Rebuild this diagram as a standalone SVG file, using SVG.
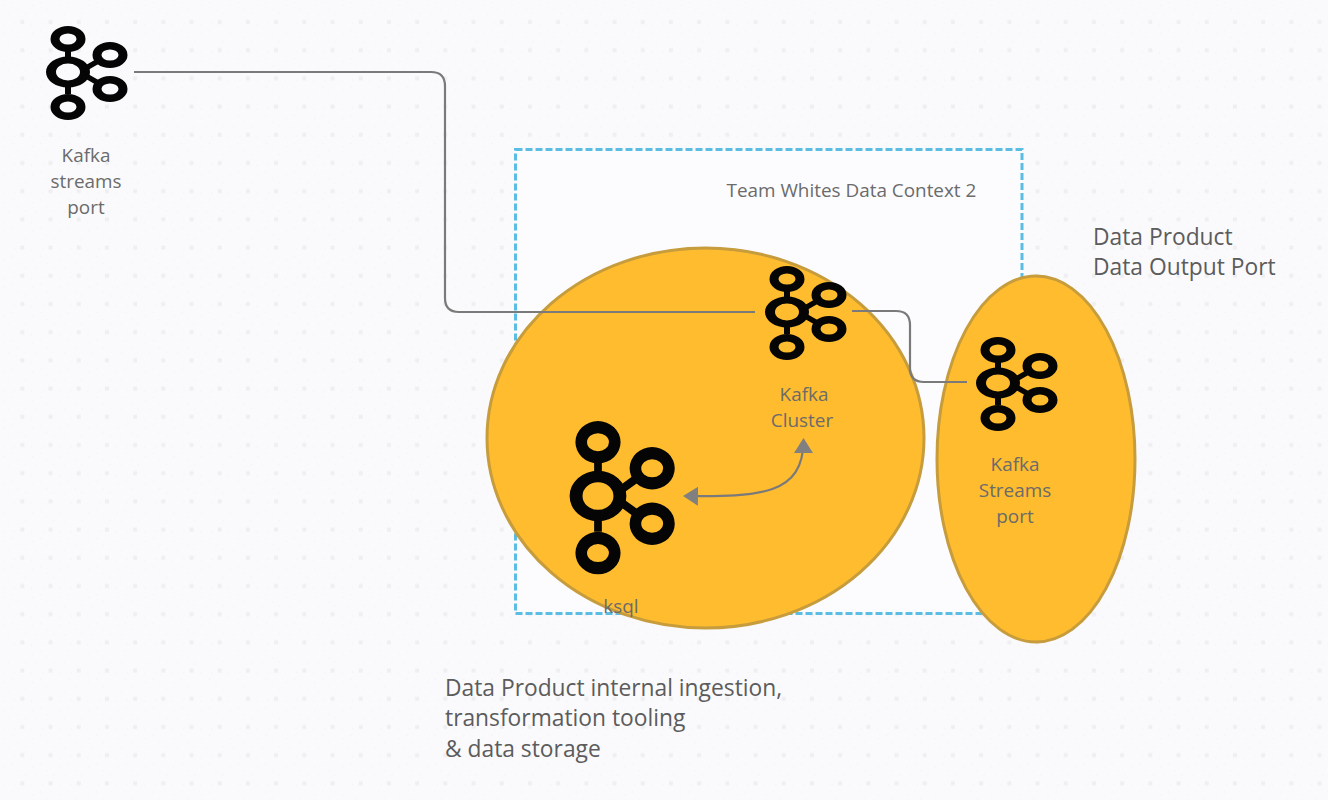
<svg xmlns="http://www.w3.org/2000/svg" width="1328" height="800" viewBox="0 0 1328 800">
<style>
.t{font-family:"Open Sans","Noto Sans","Liberation Sans",sans-serif;fill:#6b6b6b;font-size:18.900px}
.c{text-anchor:middle}
.l{font-size:22.800px;fill:#5c5c5c}
.blob{fill:#FFBC2E;stroke:#C69C3C;stroke-width:3}
.wire{fill:none;stroke:#7a7a7a;stroke-width:2.200}
</style>
<defs>
<pattern id="dots" width="28.2" height="28.2" patternUnits="userSpaceOnUse">
<rect x="20.300" y="20" width="4" height="4" fill="#efeff2"/>
<g fill="#eeeef2"><rect x="4" y="5" width="1" height="1"/><rect x="12" y="2" width="1" height="1"/><rect x="8" y="14" width="1" height="1"/><rect x="18" y="9" width="1" height="1"/><rect x="25" y="13" width="1" height="1"/><rect x="14" y="23" width="1" height="1"/><rect x="3" y="24" width="1" height="1"/></g>
</pattern>
<marker id="ah" viewBox="0 0 15 19" refX="13" refY="9.5" markerWidth="15" markerHeight="19" markerUnits="userSpaceOnUse" orient="auto-start-reverse">
<path d="M0 0L0 19L15 9.500Z" fill="#808080"/>
</marker>
<g id="kafka" fill="#050505">
<path d="M-3 -22h6v8h-6zM-3 14h6v8h-6zM18 -7L31 -14.500l3 4.500L20 -2zM18 7L31 14.500l3 -4.500L20 2z"/>
<path fill-rule="evenodd" d="M-22 0a22 15.500 0 1 0 44 0a22 15.500 0 1 0 -44 0zM-12 0a12 8.500 0 1 1 24 0a12 8.500 0 1 1 -24 0z"/>
<g id="ring"><path fill-rule="evenodd" d="M-17.500 -33a17.500 13 0 1 0 35 0a17.500 13 0 1 0 -35 0zM-8.500 -33a8.500 5.500 0 1 1 17 0a8.500 5.500 0 1 1 -17 0z"/></g>
<use href="#ring" y="68"/>
<use href="#ring" x="42" y="16"/>
<use href="#ring" x="42" y="50"/>
</g>
</defs>
<rect width="1328" height="800" fill="#fafafc"/>
<rect width="1328" height="800" fill="url(#dots)"/>
<rect x="515.500" y="149.500" width="506.500" height="464" fill="#fcfcff" stroke="#5BBDE4" stroke-width="3" stroke-dasharray="7 3"/>
<g id="node-internal"><ellipse class="blob" cx="705.500" cy="438" rx="218.500" ry="190"/></g>
<g id="node-output"><ellipse class="blob" cx="1036" cy="459" rx="99" ry="183"/></g>
<g id="connectors">
<path class="wire" d="M134 72H431Q445 72 445 86V298Q445 312 459 312H755"/>
<path class="wire" d="M852 311H896Q910 311 910 325V368Q910 382 924 382H967"/>
<path class="wire" marker-start="url(#ah)" marker-end="url(#ah)" d="M685 496C760 497 803.500 495 803.500 440"/>
</g>
<g id="kafka-streams-port">
<use href="#kafka" x="68" y="72"/>
<text class="t c" x="86" y="162">Kafka</text><text class="t c" x="86" y="188">streams</text><text class="t c" x="86" y="214">port</text>
</g>
<g id="kafka-cluster">
<use href="#kafka" x="787" y="312"/>
<text class="t c" x="804" y="401">Kafka</text><text class="t c" x="802" y="427">Cluster</text>
</g>
<g id="kafka-streams-port-2">
<use href="#kafka" x="998" y="383"/>
<text class="t c" x="1015" y="471">Kafka</text><text class="t c" x="1015" y="497">Streams</text><text class="t c" x="1015" y="523">port</text>
</g>
<g id="ksql">
<use href="#kafka" transform="translate(598 496) scale(1.290 1.630)"/>
<text class="t c" x="621" y="613">ksql</text>
</g>
<text class="t" x="726.500" y="197">Team Whites Data Context 2</text>
<text class="t l" x="1093" y="245">Data Product</text>
<text class="t l" x="1093" y="275">Data Output Port</text>
<text class="t l" x="445" y="696">Data Product internal ingestion,</text>
<text class="t l" x="445" y="726">transformation tooling</text>
<text class="t l" x="445" y="757">&amp; data storage</text>
</svg>
